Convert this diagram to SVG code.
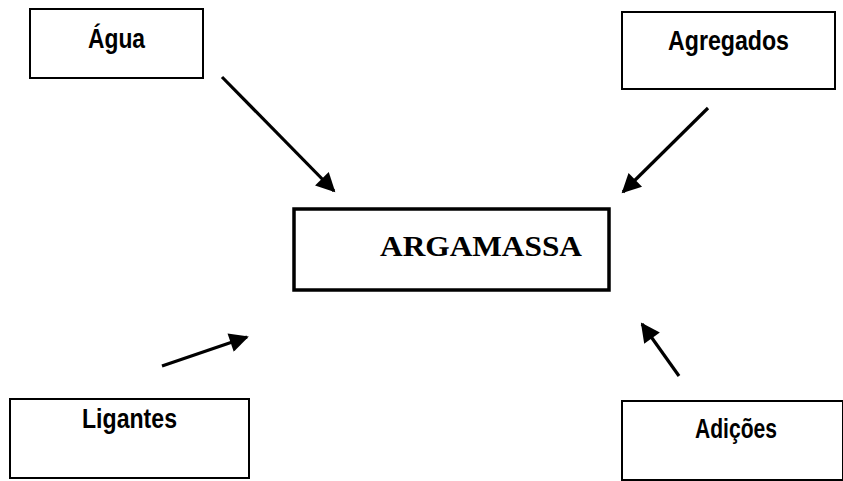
<svg xmlns="http://www.w3.org/2000/svg" width="843" height="481" viewBox="0 0 843 481">
  <style>
    .box { fill: #fff; stroke: #000; stroke-width: 2; }
    .main { fill: #fff; stroke: #000; stroke-width: 3.5; }
    .lbl { font-family: "Liberation Sans", Arial, sans-serif; font-weight: bold; font-size: 27px; fill: #000; }
    .title { font-family: "Liberation Serif", "Times New Roman", serif; font-weight: bold; font-size: 30px; fill: #000; }
    .arrow { stroke: #000; stroke-width: 3.2; fill: none; marker-end: url(#head); }
  </style>
  <defs>
    <marker id="head" viewBox="0 0 10 10" refX="9" refY="5" markerWidth="7" markerHeight="6" markerUnits="strokeWidth" orient="auto">
      <path d="M0,0 L10,5 L0,10 Z" fill="#000"/>
    </marker>
  </defs>

  <g id="agua">
    <rect class="box" x="30" y="9" width="173" height="69"/>
    <text class="lbl" x="88" y="48" textLength="57" lengthAdjust="spacingAndGlyphs">Água</text>
  </g>

  <g id="agregados">
    <rect class="box" x="622" y="12" width="213" height="77"/>
    <text class="lbl" x="668" y="50" textLength="121" lengthAdjust="spacingAndGlyphs">Agregados</text>
  </g>

  <g id="argamassa">
    <rect class="main" x="294" y="209" width="315" height="81"/>
    <text class="title" x="380" y="256" textLength="202" lengthAdjust="spacingAndGlyphs">ARGAMASSA</text>
  </g>

  <g id="ligantes">
    <rect class="box" x="10" y="399" width="239" height="79"/>
    <text class="lbl" x="82" y="428" textLength="95" lengthAdjust="spacingAndGlyphs">Ligantes</text>
  </g>

  <g id="adicoes">
    <rect class="box" x="622" y="401" width="221" height="79"/>
    <text class="lbl" x="695" y="438" textLength="82" lengthAdjust="spacingAndGlyphs">Adições</text>
  </g>

  <g id="connectors">
    <line class="arrow" x1="222" y1="77" x2="334" y2="191"/>
    <line class="arrow" x1="708" y1="108" x2="623" y2="192"/>
    <line class="arrow" x1="162" y1="366" x2="247" y2="337"/>
    <line class="arrow" x1="679" y1="376" x2="642" y2="324"/>
  </g>
</svg>
